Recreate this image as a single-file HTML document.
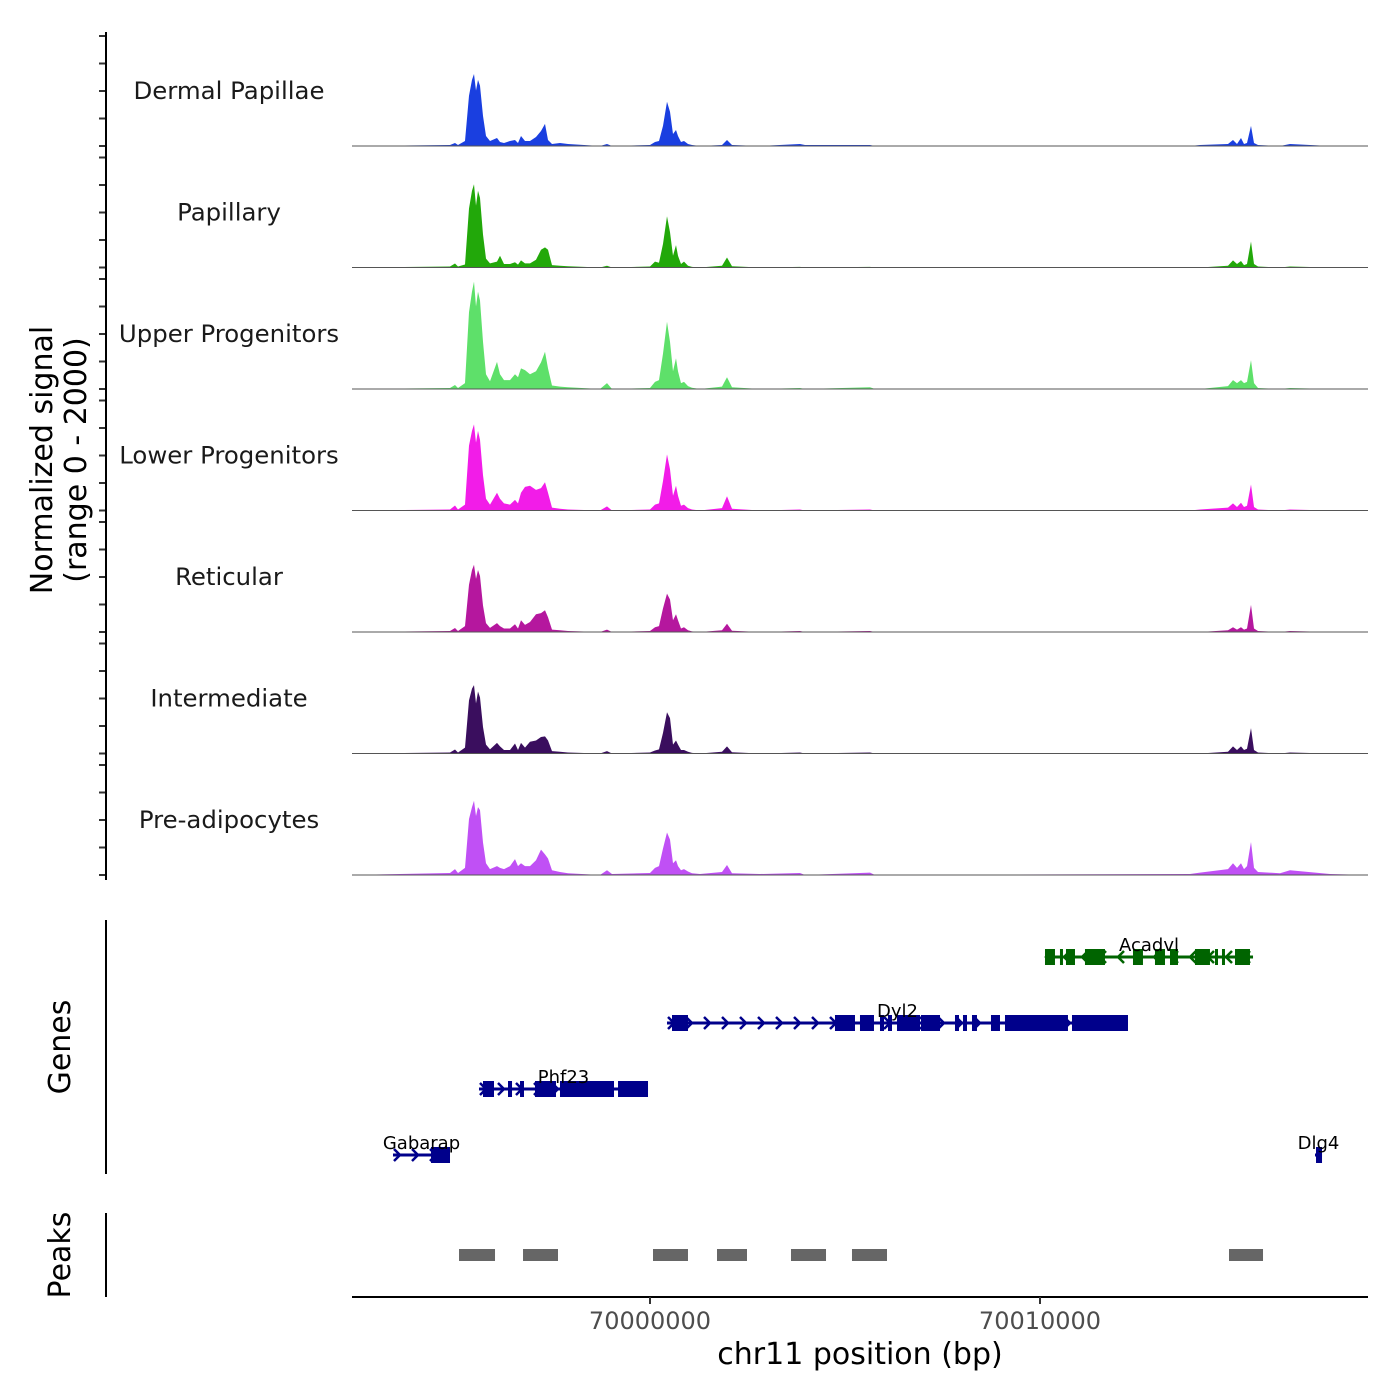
<!DOCTYPE html>
<html><head><meta charset="utf-8"><style>
body{margin:0;background:#fff}
svg{display:block;font-family:"DejaVu Sans","Liberation Sans",sans-serif}
</style></head><body>
<svg id="chart" width="1400" height="1400" viewBox="0 0 1400 1400" xmlns="http://www.w3.org/2000/svg">
<rect width="1400" height="1400" fill="#fff"/>
<g id="tracks"></g>
<g id="ylabels">
<text transform="translate(52,460) rotate(-90)" text-anchor="middle" font-size="30" fill="#000">Normalized signal</text>
<text transform="translate(86,460) rotate(-90)" text-anchor="middle" font-size="30" fill="#000">(range 0 - 2000)</text>
<text transform="translate(70,1047) rotate(-90)" text-anchor="middle" font-size="30" fill="#000">Genes</text>
<text transform="translate(70,1255) rotate(-90)" text-anchor="middle" font-size="30" fill="#000">Peaks</text>
</g>
<line x1="106" y1="32" x2="106" y2="880" stroke="#000" stroke-width="2"/>
<line x1="106" y1="920" x2="106" y2="1174" stroke="#000" stroke-width="2"/>
<line x1="106" y1="1213" x2="106" y2="1297" stroke="#000" stroke-width="2"/>
<g id="genes"></g>
<g id="peaks"></g>
<g id="xaxis">
<line x1="352" y1="1297" x2="1368" y2="1297" stroke="#000" stroke-width="2"/>
<text x="860" y="1364" text-anchor="middle" font-size="30" fill="#000">chr11 position (bp)</text>
</g>
</svg>
<script>
const REF = 70000000;
const DOMAIN = [69992359, 70018410];
const RANGE = [352, 1368];
const YMAX = 2000;
const trackNames = ["Dermal Papillae","Papillary","Upper Progenitors","Lower Progenitors","Reticular","Intermediate","Pre-adipocytes"];
const trackColors = ["#1a3fe0","#22a80a","#5ee06a","#f21ce8","#b5179e","#3a0e5e","#c050f5"];
const positions = [-7641,-5128,-5000,-4923,-4744,-4641,-4564,-4513,-4462,-4410,-4359,-4282,-4205,-4103,-3923,-3846,-3744,-3590,-3462,-3385,-3308,-3205,-3077,-2923,-2795,-2692,-2615,-2513,-2308,-2103,-1282,-1103,-974,0,128,231,333,436,513,590,667,718,795,872,974,1077,1282,1846,1974,2103,2821,3846,3974,5641,5769,13846,14103,14820,14948,15051,15154,15231,15308,15410,15487,15590,16154,16410,17436,18410];
const dermal = [0,17,51,17,85,850,1120,1220,940,1120,1020,510,170,85,136,68,51,85,102,51,170,85,85,153,255,374,102,34,51,34,0,34,0,17,68,85,340,750,580,204,272,170,68,85,34,17,0,17,102,17,0,34,17,17,0,0,17,34,102,34,136,34,51,340,51,17,0,34,0,0];
const papillary = [0,17,68,17,51,1000,1300,1410,1050,1300,1180,560,150,70,100,200,60,60,90,50,120,70,70,130,300,340,300,40,30,20,0,30,0,17,100,80,400,870,600,200,380,200,60,100,30,10,0,30,170,20,0,10,0,10,0,0,0,30,120,60,110,40,60,440,60,17,0,17,0,0];
const upper = [0,17,68,17,100,1300,1650,1820,1400,1650,1500,800,250,130,460,250,150,150,250,200,350,320,250,300,450,630,350,60,40,30,0,100,0,17,120,150,600,1140,800,300,520,300,100,120,50,20,0,40,200,30,0,17,0,30,0,0,0,50,150,100,150,100,120,490,100,17,0,17,0,0];
const lower = [0,17,85,17,100,1100,1350,1460,1150,1350,1200,600,200,100,300,200,120,100,180,120,300,400,420,350,380,480,300,50,30,17,0,70,0,17,100,120,500,950,700,250,420,250,80,100,40,17,0,40,240,30,0,17,0,17,0,0,17,50,120,60,130,60,80,440,60,17,0,17,0,0];
const reticular = [0,17,68,17,100,800,1050,1140,900,1050,950,450,150,70,150,100,60,60,130,60,200,120,170,300,320,370,250,40,30,17,0,40,0,17,80,100,400,650,550,200,300,200,60,80,30,10,0,30,140,20,0,17,0,17,0,0,0,30,80,40,80,40,60,460,60,17,0,17,0,0];
const intermediate = [0,17,68,17,100,900,1100,1160,850,1050,950,450,150,70,180,120,60,60,170,60,180,100,200,220,280,290,220,40,30,17,0,40,0,17,50,70,350,700,600,150,220,150,60,60,30,10,0,30,120,20,0,17,0,17,0,0,0,30,120,60,120,60,80,430,60,17,0,17,0,0];
const preadipo = [0,34,100,34,120,950,1150,1260,1000,1150,1100,550,200,100,150,120,100,150,270,150,200,150,150,250,430,350,280,80,50,30,0,80,17,34,120,150,450,720,600,200,250,150,80,100,60,30,17,50,170,30,17,34,0,40,0,17,40,100,200,120,200,100,150,560,120,50,30,80,17,0];
const series = [dermal,papillary,upper,lower,reticular,intermediate,preadipo];
const yTicks = [0,500,1000,1500,2000];
const xTicks = [70000000, 70010000];
const geneNames = ["Acadvl","Dyl2","Phf23","Gabarap","Dlg4"];
const geneStrand = ["-","+","+","+","+"];
const geneRow = [0,1,2,3,3];
const geneColor = ["#006400","#00008b","#00008b","#00008b","#00008b"];
const geneStart = [10128,436,-4385,-6590,17051];
const geneEnd = [15462,12256,-51,-5128,17231];
const geneExons = [
 [[10128,10384],[10512,10564],[10666,10897],[11153,11666],[12384,12640],[12948,13205],[13333,13538],[13974,14358],[14487,14564],[14666,14743],[15000,15384]],
 [[564,974],[4743,5256],[5384,5743],[5897,6000],[6102,6205],[6333,6923],[6948,7436],[7820,7923],[8025,8128],[8256,8384],[8743,8974],[9102,10717],[10820,12256]],
 [[-4282,-4000],[-3641,-3538],[-3333,-3231],[-2949,-2410],[-2308,-923],[-820,-51]],
 [[-5615,-5128]],
 [[17077,17231]]
];
const peakStart = [-4897,-3256,77,1718,3615,5179,14846];
const peakEnd = [-3974,-2359,974,2487,4513,6077,15718];

const NS = "http://www.w3.org/2000/svg";
function xs(bp){return RANGE[0]+(bp-DOMAIN[0])/(DOMAIN[1]-DOMAIN[0])*(RANGE[1]-RANGE[0]);}
function ys(v,base){return base - v/YMAX*118;}
function yt(v,base){return base - v/YMAX*110;}
function mk(tag,attrs,parent){const e=document.createElementNS(NS,tag);for(const k in attrs)e.setAttribute(k,attrs[k]);parent.appendChild(e);return e;}
const tracksG=document.getElementById('tracks');
series.forEach((vals,i)=>{
  const base=146+121.5*i;
  let d=`M${xs(REF+positions[0])},${base}`;
  vals.forEach((v,j)=>{d+=` L${xs(REF+positions[j]).toFixed(1)},${ys(v,base).toFixed(1)}`;});
  d+=` L${xs(REF+positions[positions.length-1])},${base} Z`;
  const p=mk('path',{d:d,fill:trackColors[i],stroke:'none'},tracksG);
  
  
  const bl=mk('line',{x1:352,x2:1368,y1:base,y2:base,stroke:'#555',"stroke-width":1},tracksG);
  
  
  const t=mk('text',{x:229,y:base-47,"text-anchor":"middle","font-size":"24.4",fill:"#1a1a1a"},tracksG);
  t.textContent=trackNames[i];
  
  
  yTicks.forEach(tv=>{
    const tk=mk('line',{x1:99,x2:106,y1:yt(tv,base),y2:yt(tv,base),stroke:'#333',"stroke-width":2},tracksG);
    
    
  });
});
const genesG=document.getElementById('genes');
geneNames.forEach((n,i)=>{
  const y=957+66*geneRow[i];
  const c=geneColor[i];
  const g=mk('g',{},genesG);
  
  
  const x0=xs(REF+geneStart[i]), x1=xs(REF+geneEnd[i]);
  mk('line',{x1:x0,x2:x1,y1:y,y2:y,stroke:c,"stroke-width":3},g);
  for(let x=x0+4;x<x1-4;x+=18){
    const dir=geneStrand[i]==="+"?1:-1;
    mk('path',{d:`M${x-3*dir},${y-6} L${x+3*dir},${y} L${x-3*dir},${y+6}`,fill:'none',stroke:c,"stroke-width":2.5},g);
  }
  geneExons[i].forEach(e=>{
    mk('rect',{x:xs(REF+e[0]),y:y-8,width:Math.max(3,xs(REF+e[1])-xs(REF+e[0])),height:16,fill:c},g);
  });
  const t=mk('text',{x:(x0+x1)/2,y:y-6,"text-anchor":"middle","font-size":"18",fill:"#000"},g);
  t.textContent=n;
  
  
});
const peaksG=document.getElementById('peaks');
peakStart.forEach((s,i)=>{
  const r=mk('rect',{x:xs(REF+s),y:1249,width:xs(REF+peakEnd[i])-xs(REF+s),height:12,fill:'#666'},peaksG);
  
  
});
const xa=document.getElementById('xaxis');
xTicks.forEach(v=>{
  const x=xs(v);
  const tk=mk('line',{x1:x,x2:x,y1:1297,y2:1304,stroke:'#333',"stroke-width":2},xa);
  
  
  const t=mk('text',{x:x,y:1329,"text-anchor":"middle","font-size":"24",fill:"#4d4d4d"},xa);
  t.textContent=String(v);
  
  
});
</script>
</body></html>
